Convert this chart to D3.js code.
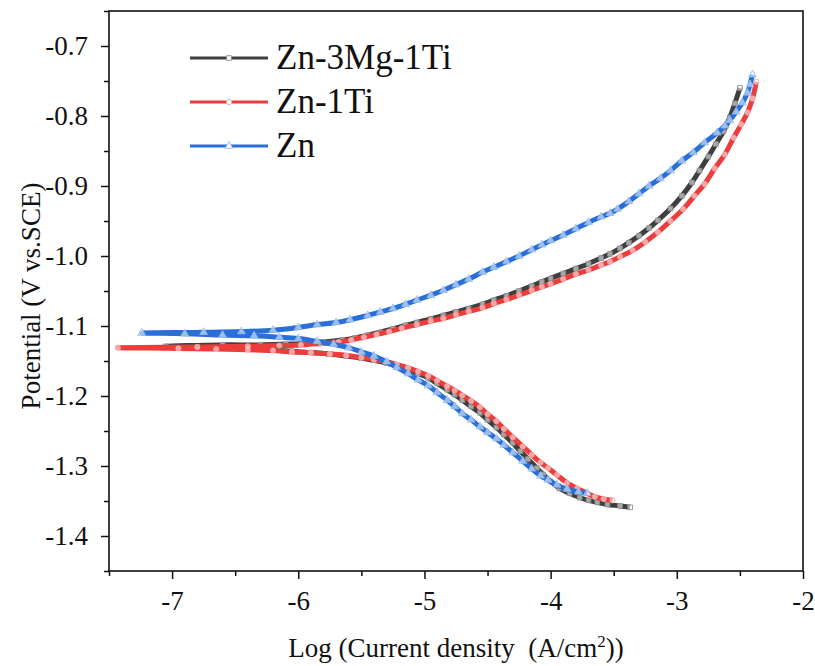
<!DOCTYPE html>
<html><head><meta charset="utf-8">
<script src="https://cdn.jsdelivr.net/npm/d3@7"></script>
<style>body{margin:0;background:#fff}svg{display:block}text{font-family:"Liberation Serif","Times New Roman",serif;fill:#111}</style>
</head><body>
<svg id="chart" width="815" height="666"></svg>
<script>
// ---------- data ----------
const seriesNames = ["Zn-3Mg-1Ti", "Zn-1Ti", "Zn"];
const xTicks = [-7, -6, -5, -4, -3, -2];
const yTicks = [-1.4, -1.3, -1.2, -1.1, -1.0, -0.9, -0.8, -0.7];

// Zn-3Mg-1Ti: scan order, cathodic end -> Ecorr -> anodic end
const logI_ZnMgTi = [-3.37,-3.45,-3.55,-3.63,-3.70,-3.77,-3.85,-3.93,-4.00,-4.06,-4.11,-4.18,-4.24,-4.30,-4.37,-4.43,-4.50,-4.56,-4.63,-4.70,-4.76,-4.82,-4.90,-4.97,-5.05,-5.13,-5.22,-5.30,-5.40,-5.50,-5.62,-5.75,-5.90,-6.05,-6.25,-6.50,-6.80,-7.05,
  -6.60,-6.30,-6.10,-5.95,-5.80,-5.65,-5.55,-5.45,-5.35,-5.25,-5.15,-5.06,-4.95,-4.85,-4.75,-4.65,-4.54,-4.45,-4.35,-4.25,-4.15,-4.07,-4.00,-3.90,-3.80,-3.70,-3.60,-3.53,-3.45,-3.38,-3.30,-3.22,-3.15,-3.05,-2.96,-2.88,-2.82,-2.75,-2.69,-2.63,-2.58,-2.54,-2.50];
const E_ZnMgTi = [-1.359,-1.357,-1.355,-1.352,-1.349,-1.345,-1.339,-1.332,-1.322,-1.312,-1.303,-1.290,-1.279,-1.267,-1.255,-1.245,-1.234,-1.224,-1.215,-1.206,-1.198,-1.191,-1.182,-1.174,-1.168,-1.162,-1.157,-1.153,-1.149,-1.146,-1.143,-1.140,-1.138,-1.136,-1.134,-1.132,-1.130,-1.129,
  -1.127,-1.127,-1.126,-1.125,-1.123,-1.120,-1.117,-1.113,-1.109,-1.104,-1.099,-1.095,-1.090,-1.085,-1.080,-1.075,-1.069,-1.063,-1.057,-1.050,-1.043,-1.037,-1.032,-1.025,-1.018,-1.011,-1.003,-0.997,-0.989,-0.981,-0.971,-0.960,-0.949,-0.932,-0.914,-0.895,-0.878,-0.858,-0.840,-0.822,-0.802,-0.782,-0.760];

// Zn-1Ti
const logI_ZnTi = [-3.51,-3.58,-3.65,-3.71,-3.79,-3.87,-3.95,-4.02,-4.08,-4.15,-4.22,-4.30,-4.37,-4.43,-4.50,-4.56,-4.63,-4.70,-4.76,-4.82,-4.90,-4.97,-5.05,-5.13,-5.22,-5.30,-5.40,-5.50,-5.62,-5.75,-5.90,-6.05,-6.20,-6.40,-6.65,-6.95,-7.43,
  -6.80,-6.40,-6.15,-5.98,-5.82,-5.68,-5.58,-5.48,-5.38,-5.28,-5.18,-5.06,-4.95,-4.85,-4.75,-4.65,-4.54,-4.45,-4.35,-4.25,-4.15,-4.07,-4.00,-3.90,-3.80,-3.70,-3.60,-3.53,-3.45,-3.35,-3.25,-3.15,-3.05,-2.95,-2.86,-2.78,-2.70,-2.62,-2.55,-2.49,-2.44,-2.40,-2.37];
const E_ZnTi = [-1.349,-1.347,-1.344,-1.339,-1.332,-1.324,-1.313,-1.303,-1.295,-1.284,-1.272,-1.259,-1.247,-1.236,-1.226,-1.216,-1.207,-1.199,-1.192,-1.186,-1.178,-1.171,-1.165,-1.160,-1.155,-1.151,-1.148,-1.145,-1.142,-1.140,-1.138,-1.137,-1.135,-1.134,-1.133,-1.132,-1.131,
  -1.130,-1.129,-1.128,-1.127,-1.125,-1.123,-1.120,-1.116,-1.112,-1.108,-1.103,-1.098,-1.093,-1.089,-1.084,-1.079,-1.074,-1.068,-1.062,-1.056,-1.049,-1.044,-1.040,-1.033,-1.026,-1.020,-1.013,-1.008,-1.001,-0.992,-0.980,-0.966,-0.950,-0.933,-0.914,-0.897,-0.875,-0.855,-0.831,-0.812,-0.795,-0.775,-0.751];

// Zn
const logI_Zn = [-3.71,-3.78,-3.87,-3.95,-4.02,-4.08,-4.15,-4.22,-4.30,-4.37,-4.43,-4.50,-4.56,-4.63,-4.70,-4.76,-4.82,-4.90,-4.97,-5.05,-5.13,-5.22,-5.30,-5.40,-5.50,-5.60,-5.72,-5.85,-6.00,-6.15,-6.35,-6.60,-6.90,-7.24,
  -6.75,-6.45,-6.20,-6.00,-5.85,-5.70,-5.59,-5.45,-5.35,-5.25,-5.15,-5.06,-4.95,-4.85,-4.75,-4.65,-4.54,-4.45,-4.35,-4.25,-4.15,-4.07,-4.00,-3.90,-3.80,-3.70,-3.60,-3.53,-3.47,-3.38,-3.30,-3.22,-3.13,-3.05,-2.96,-2.87,-2.78,-2.68,-2.62,-2.58,-2.53,-2.48,-2.44,-2.42,-2.40];
const E_Zn = [-1.339,-1.337,-1.333,-1.327,-1.320,-1.314,-1.304,-1.293,-1.281,-1.270,-1.261,-1.252,-1.244,-1.234,-1.225,-1.215,-1.206,-1.195,-1.185,-1.177,-1.168,-1.159,-1.151,-1.143,-1.137,-1.131,-1.126,-1.122,-1.118,-1.116,-1.114,-1.113,-1.111,-1.110,
  -1.109,-1.108,-1.106,-1.102,-1.098,-1.095,-1.091,-1.085,-1.080,-1.075,-1.069,-1.063,-1.056,-1.049,-1.041,-1.033,-1.023,-1.016,-1.008,-1.000,-0.991,-0.984,-0.978,-0.970,-0.961,-0.952,-0.944,-0.939,-0.933,-0.922,-0.911,-0.900,-0.889,-0.878,-0.864,-0.852,-0.838,-0.824,-0.814,-0.806,-0.794,-0.781,-0.767,-0.755,-0.741];

const lineColors = ["#3e3e3e", "#ec3c3c", "#2a6fd8"];
const markColors = ["#8d8d8d", "#f5a3a3", "#8ab8f2"];
const markTypes = [d3.symbolSquare, d3.symbolCircle, d3.symbolTriangle];

// ---------- chart ----------
const svg = d3.select("#chart");
const L = 109, R = 803, T = 11, B = 571;
const x = d3.scaleLinear().domain([-7.5, -2]).range([L, R]);
const y = d3.scaleLinear().domain([-1.45, -0.65]).range([B, T]);

const series = [
  logI_ZnMgTi.map((v, i) => [v, E_ZnMgTi[i]]),
  logI_ZnTi.map((v, i) => [v, E_ZnTi[i]]),
  logI_Zn.map((v, i) => [v, E_Zn[i]])
];

const line = d3.line().x(d => x(d[0])).y(d => y(d[1])).curve(d3.curveCatmullRom.alpha(0.5));

series.forEach((s, k) => {
  const g = svg.append("g");
  g.append("path").attr("d", line(s)).attr("fill", "none")
    .attr("stroke", lineColors[k]).attr("stroke-width", 5).attr("stroke-linejoin", "round");
  const sym = d3.symbol().type(markTypes[k]).size(k === 2 ? 26 : 22);
  g.selectAll("path.m").data(s).join("path").attr("class", "m")
    .attr("transform", d => `translate(${x(d[0])},${y(d[1])})`)
    .attr("d", sym).attr("fill", "#fff").attr("fill-opacity", 0.55)
    .attr("stroke", markColors[k]).attr("stroke-width", 0.9);
});

// frame
svg.append("rect").attr("x", L).attr("y", T).attr("width", R - L).attr("height", B - T)
  .attr("fill", "none").attr("stroke", "#111").attr("stroke-width", 1.6);

// axes
const minusFix = f => d => f(d).replace("\u2212", "-");
const xAxis = d3.axisBottom(x).tickValues(xTicks).tickFormat(minusFix(d3.format("d"))).tickSize(8).tickPadding(12);
svg.append("g").attr("transform", `translate(0,${B})`).call(xAxis);
const xMinor = d3.axisBottom(x).tickValues([-7.5,-6.5,-5.5,-4.5,-3.5,-2.5]).tickFormat("").tickSize(5);
svg.append("g").attr("transform", `translate(0,${B})`).call(xMinor);

const yAxis = d3.axisLeft(y).tickValues(yTicks).tickFormat(minusFix(d3.format(".1f"))).tickSize(8).tickPadding(13);
svg.append("g").attr("transform", `translate(${L},0)`).call(yAxis);
const yMinor = d3.axisLeft(y).tickValues([-1.45,-1.35,-1.25,-1.15,-1.05,-0.95,-0.85,-0.75,-0.65]).tickFormat("").tickSize(5);
svg.append("g").attr("transform", `translate(${L},0)`).call(yMinor);

svg.selectAll(".domain").remove();
svg.selectAll("g").attr("font-family", null).attr("font-size", null);
svg.selectAll(".tick line").attr("stroke", "#111").attr("stroke-width", 1.5);
svg.selectAll(".tick text").style("font-family", "'Liberation Serif', serif").style("font-size", "27px").attr("fill", "#111");

// axis titles
const xt = svg.append("text").attr("x", 456).attr("y", 657).attr("text-anchor", "middle")
  .style("font-size", "27px").style("white-space", "pre");
xt.append("tspan").text("Log (Current density  (A/cm");
xt.append("tspan").attr("dy", -10).style("font-size", "17px").text("2");
xt.append("tspan").attr("dy", 10).text("))");

svg.append("text").attr("transform", "translate(40,296) rotate(-90)").attr("text-anchor", "middle")
  .style("font-size", "27px").text("Potential (V vs.SCE)");

// legend
const legY = [58, 102, 146];
seriesNames.forEach((n, k) => {
  const g = svg.append("g");
  g.append("line").attr("x1", 190).attr("x2", 268).attr("y1", legY[k]).attr("y2", legY[k])
    .attr("stroke", lineColors[k]).attr("stroke-width", 3);
  g.append("path").attr("transform", `translate(229,${legY[k]})`)
    .attr("d", d3.symbol().type(markTypes[k]).size(k === 2 ? 26 : 22))
    .attr("fill", "#fff").attr("stroke", markColors[k]).attr("stroke-width", 0.9);
  g.append("text").attr("x", 276).attr("y", legY[k] + 11).style("font-size", "35px").text(n);
});
</script>
</body></html>
